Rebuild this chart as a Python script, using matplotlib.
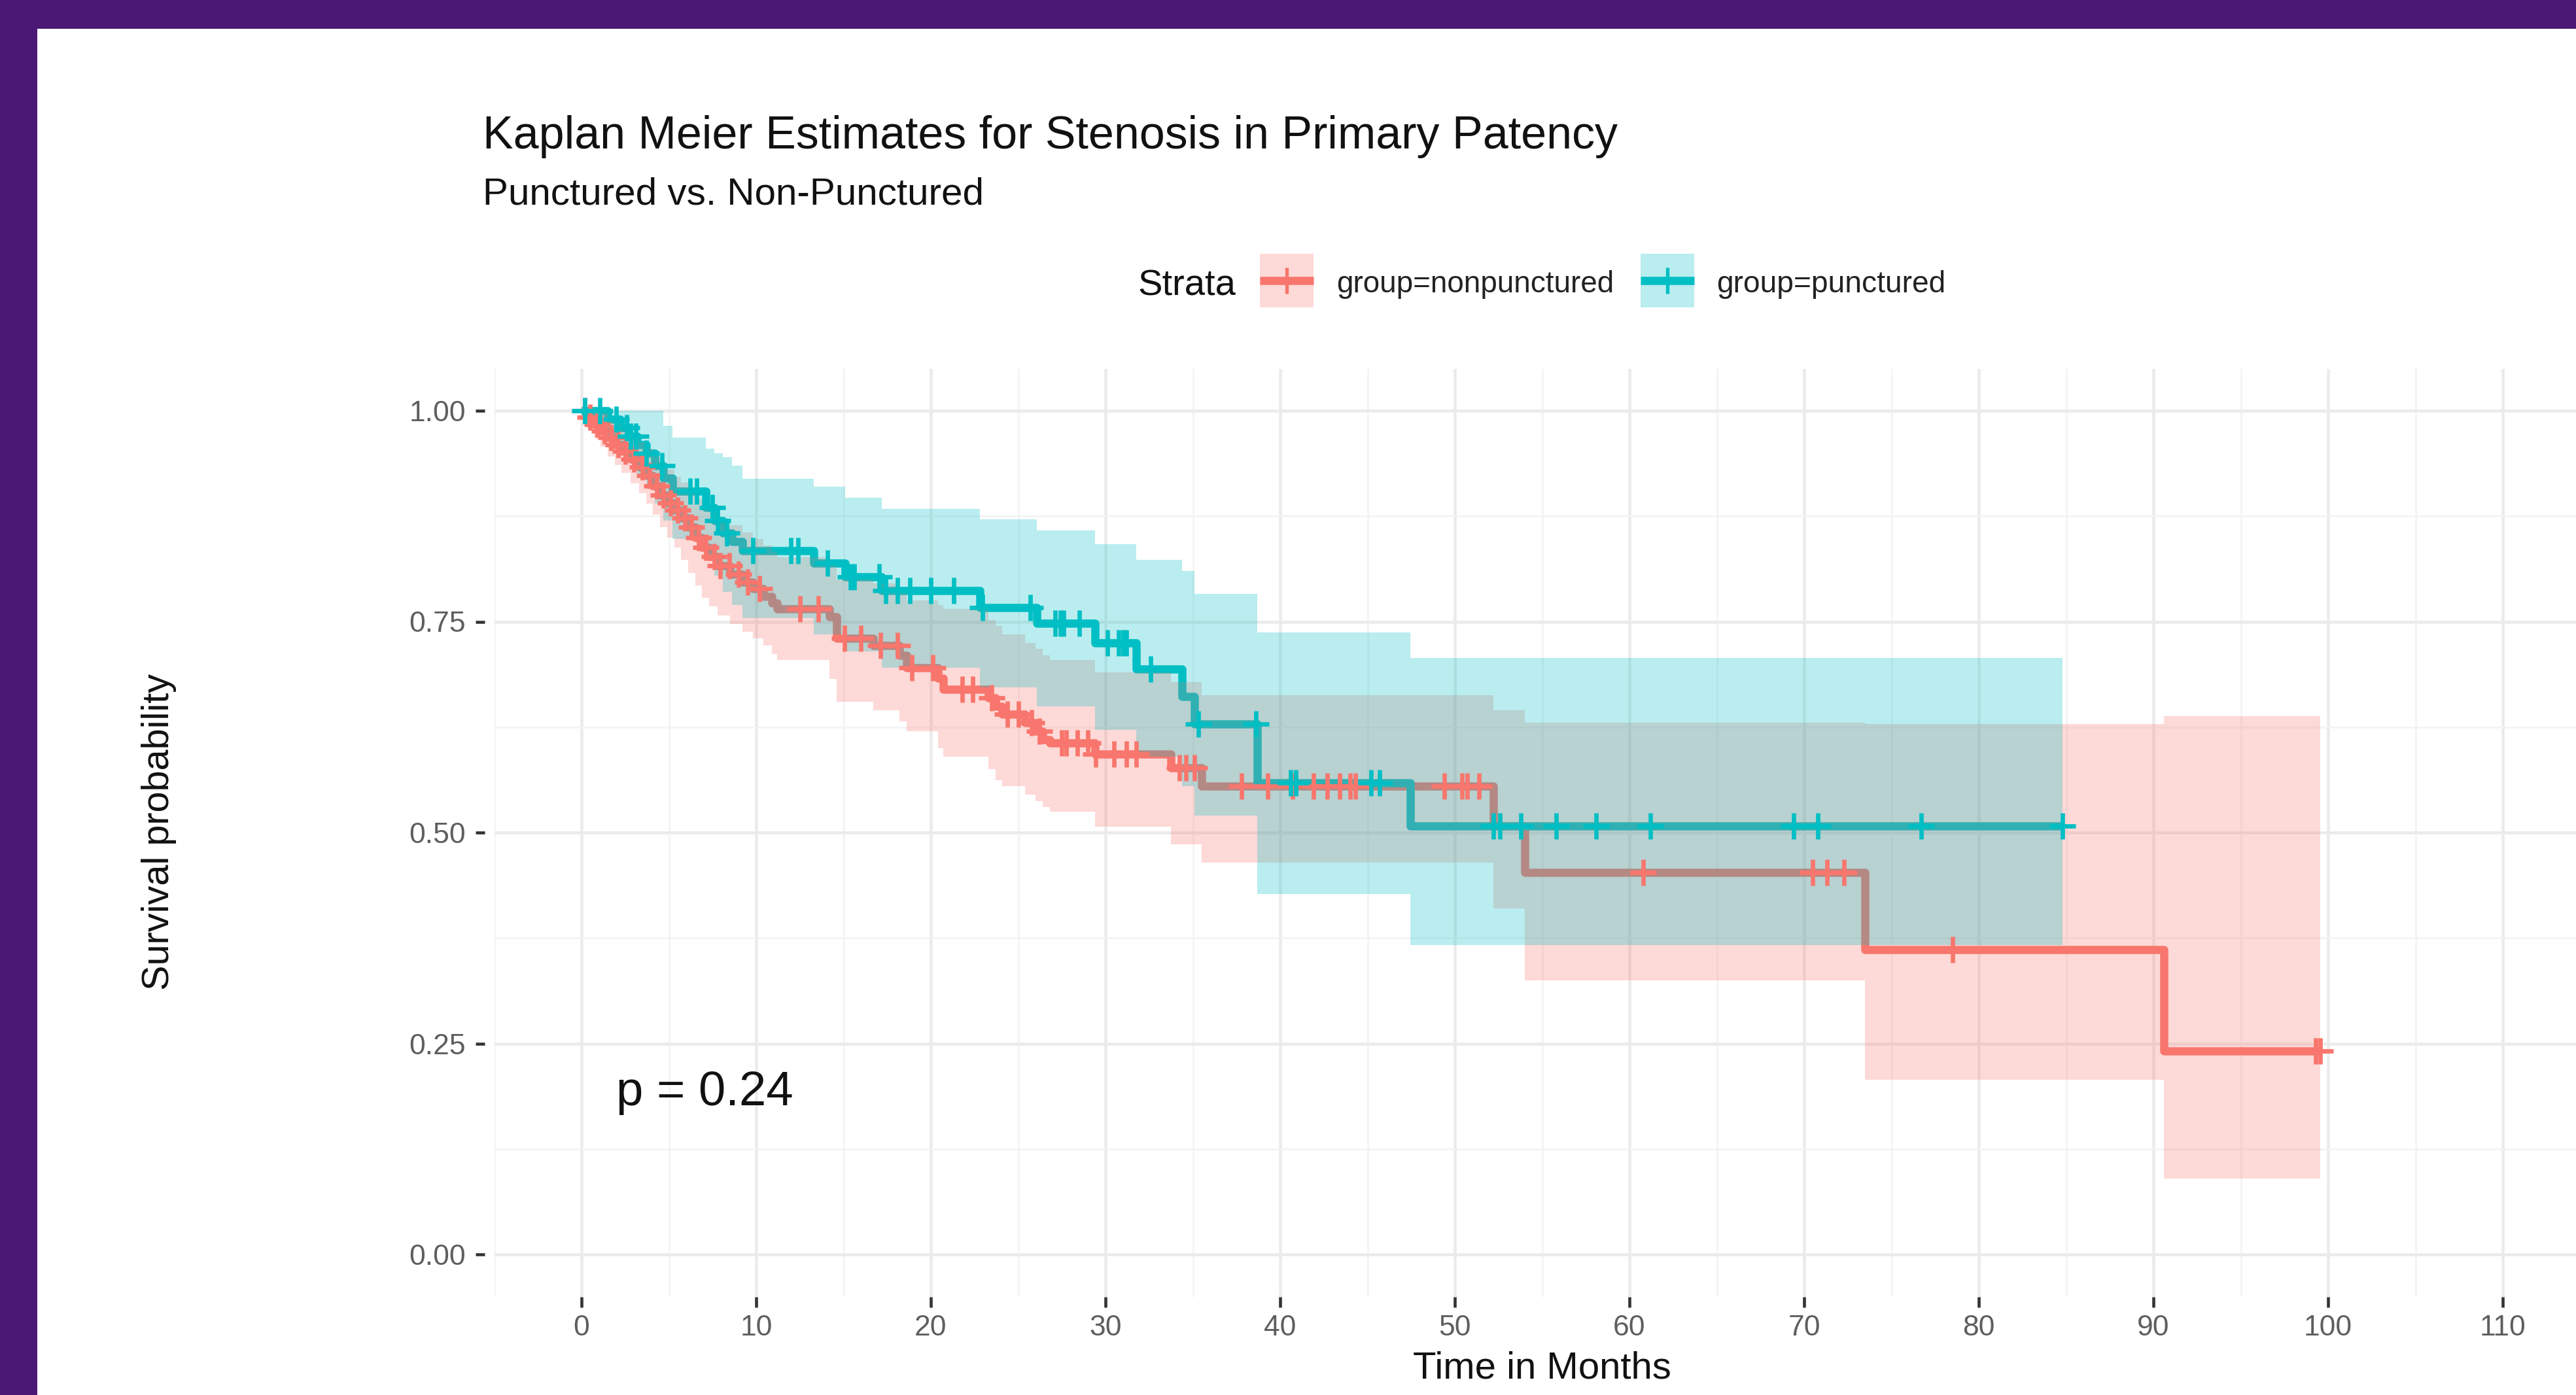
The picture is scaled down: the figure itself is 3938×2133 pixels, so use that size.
import numpy as np
import matplotlib
matplotlib.use("Agg")
import matplotlib.pyplot as plt
from matplotlib.patches import Rectangle
from matplotlib.lines import Line2D

plt.rcParams['font.family'] = ['Liberation Sans', 'DejaVu Sans']

# ---------------- data ----------------
red_time = [0, 0.3, 0.7, 1.1, 1.5, 1.9, 2.3, 2.8, 3.3, 3.7,
            4.1, 4.5, 4.9, 5.3, 5.7, 6.1, 6.5, 6.9, 7.3, 7.8,
            8.5, 9.2, 9.8, 10.4, 10.9, 11.2, 14.2, 14.6, 16.7, 18.2,
            18.6, 20.4, 20.7, 23.3, 23.7, 24.1, 25.4, 26.0, 26.4, 26.8,
            29.4, 33.75, 35.5, 52.2, 54.0, 73.5, 90.6]
red_surv = [1.0, 0.992, 0.984, 0.976, 0.968, 0.960, 0.952, 0.943, 0.933, 0.923,
            0.911, 0.900, 0.891, 0.882, 0.873, 0.862, 0.850, 0.838, 0.827, 0.816,
            0.806, 0.797, 0.789, 0.780, 0.772, 0.765, 0.756, 0.730, 0.722, 0.710,
            0.695, 0.683, 0.670, 0.660, 0.650, 0.640, 0.630, 0.620, 0.610, 0.606,
            0.593, 0.577, 0.555, 0.508, 0.453, 0.361, 0.241]
red_lower = [1.0, 0.980, 0.968, 0.957, 0.946, 0.936, 0.926, 0.914, 0.902, 0.890,
             0.877, 0.862, 0.850, 0.838, 0.823, 0.808, 0.793, 0.778, 0.768, 0.757,
             0.747, 0.738, 0.730, 0.722, 0.712, 0.705, 0.682, 0.655, 0.645, 0.632,
             0.620, 0.600, 0.590, 0.575, 0.562, 0.555, 0.545, 0.537, 0.530, 0.525,
             0.507, 0.486, 0.464, 0.410, 0.325, 0.207, 0.090]
red_upper = [1.0, 1.0, 1.0, 0.997, 0.990, 0.984, 0.978, 0.971, 0.963, 0.955,
             0.946, 0.938, 0.930, 0.922, 0.915, 0.906, 0.896, 0.887, 0.880, 0.872,
             0.864, 0.856, 0.848, 0.840, 0.833, 0.826, 0.817, 0.800, 0.795, 0.785,
             0.775, 0.770, 0.765, 0.752, 0.745, 0.735, 0.725, 0.718, 0.710, 0.705,
             0.690, 0.678, 0.663, 0.645, 0.630, 0.629, 0.638]
red_end = 99.55
red_censor = [0.2, 0.5, 0.9, 1.3, 1.7, 2.1, 2.5, 3.0, 3.5, 3.9, 4.3, 4.7, 5.1,
              5.5, 5.9, 6.3, 6.7, 7.1, 7.6, 7.95, 8.45, 9.0, 9.5, 10.2, 12.5,
              13.55, 15.06, 16.0, 17.1, 18.1, 18.9, 20.1, 21.8, 22.4, 23.5,
              24.4, 25.0, 25.76, 26.2, 27.5, 27.75, 28.4, 29.0, 29.45, 30.5,
              31.2, 31.75, 34.25, 34.6, 35.1, 37.8, 39.3, 40.7, 41.9, 42.7,
              43.4, 44.0, 44.3, 49.4, 50.4, 50.7, 51.4, 60.8, 70.5, 71.3,
              72.3, 78.5, 99.3, 99.55]

teal_time = [0, 1.5, 2.2, 2.7, 3.2, 3.7, 4.2, 4.7, 5.2, 7.1,
             7.6, 8.1, 8.6, 9.2, 13.3, 15.1, 17.2, 22.8, 26.05, 29.4,
             31.75, 34.4, 35.1, 38.7, 47.45]
teal_surv = [1.0, 0.99, 0.98, 0.97, 0.96, 0.95, 0.935, 0.92, 0.905, 0.885,
             0.87, 0.855, 0.845, 0.834, 0.819, 0.803, 0.787, 0.767, 0.748, 0.725,
             0.694, 0.661, 0.629, 0.559, 0.508]
teal_lower = [1.0, 0.970, 0.955, 0.940, 0.925, 0.910, 0.890, 0.870, 0.848, 0.825,
              0.805, 0.785, 0.770, 0.754, 0.735, 0.715, 0.695, 0.672, 0.650, 0.622,
              0.590, 0.555, 0.520, 0.4275, 0.367]
teal_upper = [1.0, 1.0, 1.0, 1.0, 1.0, 1.0, 1.0, 0.982, 0.968, 0.955,
              0.950, 0.945, 0.935, 0.919, 0.910, 0.897, 0.884, 0.871, 0.858, 0.842,
              0.823, 0.810, 0.783, 0.737, 0.707]
teal_end = 84.8
teal_censor = [0.2, 1.06, 2.0, 2.6, 2.8, 3.1, 3.7, 4.6, 6.2, 6.6, 7.5, 7.8,
               8.3, 9.8, 12.0, 12.4, 14.1, 15.4, 15.6, 17.05, 17.4, 18.1, 18.8,
               20.0, 21.3, 22.95, 25.7, 27.1, 27.4, 27.6, 28.5, 30.1, 30.75,
               31.0, 31.2, 32.6, 35.3, 38.6, 40.6, 40.9, 45.2, 45.7, 52.2, 52.6,
               53.8, 55.8, 58.1, 61.2, 69.4, 70.8, 76.7, 84.8]

x_breaks = list(range(0, 111, 10))
y_breaks = [0.0, 0.25, 0.5, 0.75, 1.0]
y_labels = ["0.00", "0.25", "0.50", "0.75", "1.00"]
group_labels = ["group=nonpunctured", "group=punctured"]
p_text = "p = 0.24"

RED = "#F8766D"
TEAL = "#00BFC4"
ALPHA = 0.27
LW = 3.0
MS = 9.5
MEW = 1.6

# ---------------- figure ----------------
W, H, DPI = 3938, 2133, 300
fig = plt.figure(figsize=(W / DPI, H / DPI), dpi=DPI, facecolor="white")


def fx(px):
    return px / W


def fy(py):
    return 1 - py / H


ax_left, ax_right, ax_top, ax_bottom = 755.5, 3959.5, 563.5, 1982.5
ax = fig.add_axes([fx(ax_left), fy(ax_bottom), (ax_right - ax_left) / W,
                   (ax_bottom - ax_top) / H])
ax.set_xlim(-5, 115)
ax.set_ylim(-0.05, 1.05)
ax.set_facecolor("white")
for s in ax.spines.values():
    s.set_visible(False)
ax.spines['left'].set_position(('outward', 3.4))

ax.set_xticks(x_breaks)
ax.set_xticklabels([str(v) for v in x_breaks])
ax.set_xticks(list(range(-5, 116, 10)), minor=True)
ax.set_yticks(y_breaks)
ax.set_yticklabels(y_labels)
ax.set_yticks([0.125, 0.375, 0.625, 0.875], minor=True)
ax.grid(which="major", color="#EBEBEB", lw=1.1)
ax.grid(which="minor", color="#F3F3F3", lw=0.6)
ax.set_axisbelow(True)
ax.tick_params(which="minor", length=0)
ax.tick_params(axis="y", which="major", length=3.4, width=1.1, color="#333333",
               pad=3.6, labelsize=10.7, labelcolor="#5E5E5E")
ax.tick_params(axis="x", which="major", length=3.8, width=1.1, color="#333333",
               pad=2.9, labelsize=10.7, labelcolor="#5E5E5E")


def draw_group(times, surv, lo, up, end, cens, color):
    times = np.asarray(times, float)
    surv = np.asarray(surv, float)
    x = np.append(times, end)
    y = np.append(surv, surv[-1])
    ylo = np.append(lo, lo[-1])
    yup = np.append(up, up[-1])
    ax.step(x, y, where="post", color=color, lw=LW, zorder=2,
            solid_capstyle="butt")
    ax.fill_between(x, ylo, yup, step="post", color=color, alpha=ALPHA, lw=0,
                    zorder=3)
    cens = np.asarray(cens, float)
    idx = np.searchsorted(times, cens, side="right") - 1
    ax.plot(cens, surv[idx], ls="none", marker="+", ms=MS, mew=MEW,
            color=color, zorder=4)


draw_group(red_time, red_surv, red_lower, red_upper, red_end, red_censor, RED)
draw_group(teal_time, teal_surv, teal_lower, teal_upper, teal_end, teal_censor, TEAL)

# ---------------- texts ----------------
renderer = fig.canvas.get_renderer()


def fit(t, target, vertical=False):
    ext = t.get_window_extent(renderer)
    cur = ext.height if vertical else ext.width
    t.set_fontsize(t.get_fontsize() * target / cur)


title = fig.text(fx(738), fy(227), "Kaplan Meier Estimates for Stenosis in Primary Patency",
                 fontsize=15, ha="left", va="baseline", color="#111111")
fit(title, 1738)
sub = fig.text(fx(738), fy(313), "Punctured vs. Non-Punctured", fontsize=13,
               ha="left", va="baseline", color="#111111")
fit(sub, 766)

strata = fig.text(fx(1739), fy(452), "Strata", fontsize=12, ha="left",
                  va="baseline", color="#111111")
fit(strata, 150)

key_specs = [(1926, 2043, 426, RED, group_labels[0]),
             (2508, 2624, 351, TEAL, group_labels[1])]
for kx, lx, lw_px, col, lab in key_specs:
    ln = Line2D([fx(kx), fx(kx + 82)], [fy(429), fy(429)], transform=fig.transFigure,
                color=col, lw=LW, solid_capstyle="butt", zorder=5)
    fig.add_artist(ln)
    fig.add_artist(Rectangle((fx(kx), fy(470)), 82 / W, 82 / H,
                             transform=fig.transFigure, facecolor=col,
                             alpha=ALPHA, lw=0, zorder=6))
    mk = Line2D([fx(kx + 41)], [fy(429)], transform=fig.transFigure, ls="none",
                marker="+", ms=MS, mew=MEW * 0.8, color=col, zorder=7)
    fig.add_artist(mk)
    t = fig.text(fx(lx), fy(447), lab, fontsize=10.5, ha="left", va="baseline",
                 color="#222222")
    fit(t, lw_px)

xlab = fig.text(fx(2357), fy(2108), "Time in Months", fontsize=14, ha="center",
                va="baseline", color="#111111")
fit(xlab, 395)
ylab = fig.text(fx(258), fy(1272), "Survival probability", fontsize=12,
                rotation=90, rotation_mode="anchor", ha="center", va="baseline",
                color="#111111")
fit(ylab, 485, vertical=True)

pv = ax.text(2.0, 0.177, p_text, fontsize=18, ha="left", va="baseline",
             color="#111111")
fit(pv, 271)

# ---------------- purple frame ----------------
PURPLE = "#4B1975"
fig.add_artist(Rectangle((0, fy(44)), 1, 44 / H, transform=fig.transFigure,
                         facecolor=PURPLE, lw=0, zorder=20))
fig.add_artist(Rectangle((0, 0), 57 / W, 1, transform=fig.transFigure,
                         facecolor=PURPLE, lw=0, zorder=20))

fig.savefig("out.png", dpi=DPI, facecolor="white")
